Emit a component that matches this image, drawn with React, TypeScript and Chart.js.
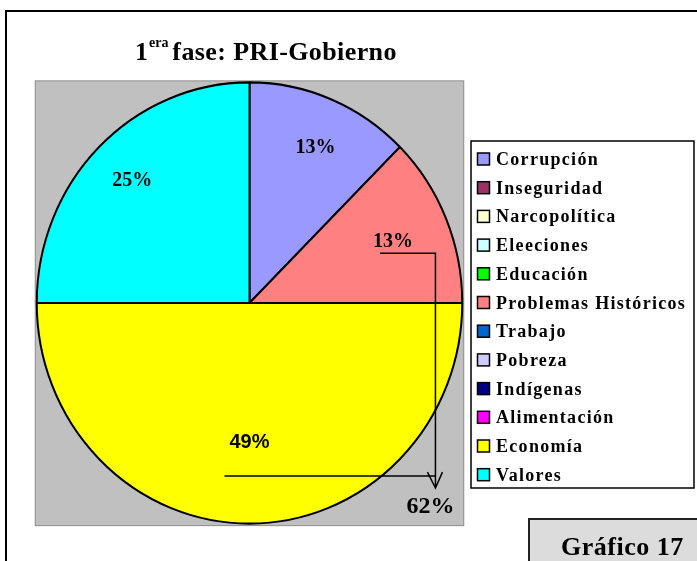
import React, { useEffect, useRef } from "react";
import { Chart, ArcElement, PieController } from "chart.js";

Chart.register(ArcElement, PieController);

const categories = [
  "Corrupción",
  "Inseguridad",
  "Narcopolítica",
  "Eleeciones",
  "Educación",
  "Problemas Históricos",
  "Trabajo",
  "Pobreza",
  "Indígenas",
  "Alimentación",
  "Economía",
  "Valores",
];
const shares = [12.5, 0, 0, 0, 0, 12.5, 0, 0, 0, 0, 50, 25];
const shownPercent = ["13%", "", "", "", "", "13%", "", "", "", "", "49%", "25%"];
const combinedLabel = "62%";
const colors = [
  "#9999FF",
  "#993366",
  "#FFFFCC",
  "#CCFFFF",
  "#00FF00",
  "#FF8080",
  "#0066CC",
  "#CCCCFF",
  "#000080",
  "#FF00FF",
  "#FFFF00",
  "#00FFFF",
];
const titleMain = "1";
const titleSup = "era";
const titleRest = " fase: PRI-Gobierno";
const badgeText = "Gráfico 17";

const SERIF = "'Liberation Serif', 'Times New Roman', serif";
const SANS = "'Liberation Sans', Arial, sans-serif";
const SY = 1.037;
const labelRadius: Record<number, number> = { 0: 0.76, 5: 0.73, 10: 0.63, 11: 0.78 };

function withSpacing(ctx: any, sp: string, fn: () => void) {
  const prev = ctx.letterSpacing;
  ctx.letterSpacing = sp;
  fn();
  ctx.letterSpacing = prev || "0px";
}

const decorPlugin = {
  id: "decor",
  beforeDraw(chart: any) {
    const ctx = chart.ctx;
    const arc = chart.getDatasetMeta(0).data[0];
    const cx = arc.x, cy = arc.y, r = arc.outerRadius;
    ctx.save();
    ctx.fillStyle = "#ffffff";
    ctx.fillRect(0, 0, chart.width, chart.height);
    ctx.strokeStyle = "#000";
    ctx.lineWidth = 2;
    ctx.strokeRect(6, 11, chart.width + 40, chart.height + 40);
    const ry = r * SY;
    ctx.fillStyle = "#C0C0C0";
    ctx.fillRect(cx - r - 1.5, cy - ry - 1.5, 2 * r + 3, 2 * ry + 3.5);
    ctx.strokeStyle = "#8a8a8a";
    ctx.lineWidth = 1;
    ctx.strokeRect(cx - r - 1.5, cy - ry - 1.5, 2 * r + 3, 2 * ry + 3.5);
    ctx.restore();
  },
  beforeDatasetsDraw(chart: any) {
    const ctx = chart.ctx;
    const arc = chart.getDatasetMeta(0).data[0];
    ctx.save();
    ctx.translate(arc.x, arc.y);
    ctx.scale(1, SY);
    ctx.translate(-arc.x, -arc.y);
  },
  afterDatasetsDraw(chart: any) {
    chart.ctx.restore();
  },
  afterDraw(chart: any) {
    const ctx = chart.ctx;
    const meta = chart.getDatasetMeta(0);
    const first = meta.data[0];
    const cx = first.x, cy = first.y, r = first.outerRadius;
    ctx.save();
    const pos: Record<number, { x: number; y: number }> = {};
    meta.data.forEach((a: any, i: number) => {
      if (!shares[i]) return;
      const mid = (a.startAngle + a.endAngle) / 2;
      const f = labelRadius[i] ?? 0.7;
      const x = cx + Math.cos(mid) * r * f;
      const y = cy + Math.sin(mid) * r * f * SY;
      pos[i] = { x, y };
      ctx.fillStyle = "#000";
      ctx.textAlign = "center";
      ctx.textBaseline = "middle";
      ctx.font = i === 10 ? `bold 20px ${SANS}` : `bold 20px ${SERIF}`;
      ctx.fillText(shownPercent[i], i === 0 ? x + 4 : x, y);
    });
    const ax = cx + r * 0.874;
    const p1 = pos[5], p2 = pos[10];
    const tipY = cy + r * 0.87;
    ctx.strokeStyle = "#000";
    ctx.lineWidth = 1.5;
    ctx.beginPath();
    ctx.moveTo(p1.x - 13, p1.y + 12);
    ctx.lineTo(ax, p1.y + 12);
    ctx.lineTo(ax, tipY);
    ctx.moveTo(p2.x - 25, p2.y + 34);
    ctx.lineTo(ax, p2.y + 34);
    ctx.moveTo(ax - 8, tipY - 16);
    ctx.lineTo(ax, tipY);
    ctx.lineTo(ax + 7, tipY - 16);
    ctx.stroke();
    ctx.fillStyle = "#000";
    ctx.textAlign = "center";
    ctx.textBaseline = "middle";
    ctx.font = `bold 24px ${SERIF}`;
    ctx.fillText(combinedLabel, ax - 5, tipY + 19);

    // title
    ctx.textAlign = "left";
    ctx.textBaseline = "alphabetic";
    ctx.font = `bold 26px ${SERIF}`;
    let tx = 135;
    withSpacing(ctx, "0px", () => {
      ctx.fillText(titleMain, tx, 60);
      tx += ctx.measureText(titleMain).width + 1;
    });
    ctx.font = `bold 14px ${SERIF}`;
    withSpacing(ctx, "0px", () => {
      ctx.fillText(titleSup, tx, 47);
      tx += ctx.measureText(titleSup).width;
    });
    ctx.font = `bold 26px ${SERIF}`;
    withSpacing(ctx, "0.4px", () => {
      ctx.fillText(titleRest, tx - 3, 60);
    });

    // legend
    const lx = 471, ly = 141, lw = 223, lh = 347;
    ctx.fillStyle = "#fff";
    ctx.fillRect(lx, ly, lw, lh);
    ctx.strokeStyle = "#000";
    ctx.lineWidth = 1.5;
    ctx.strokeRect(lx, ly, lw, lh);
    ctx.font = `bold 18px ${SERIF}`;
    categories.forEach((c, i) => {
      const yc = 159 + i * 28.7;
      ctx.fillStyle = colors[i];
      ctx.fillRect(477.5, yc - 6, 12, 12);
      ctx.strokeStyle = "#000";
      ctx.lineWidth = 1.5;
      ctx.strokeRect(477.5, yc - 6, 12, 12);
      ctx.fillStyle = "#000";
      withSpacing(ctx, "1.3px", () => {
        ctx.fillText(c, 496, yc + 6);
      });
    });

    // badge
    ctx.fillStyle = "#DCDCDC";
    ctx.fillRect(529, 519, 200, 60);
    ctx.strokeStyle = "#222";
    ctx.lineWidth = 2;
    ctx.strokeRect(529, 519, 200, 60);
    ctx.fillStyle = "#000";
    ctx.font = `bold 26px ${SERIF}`;
    withSpacing(ctx, "0.5px", () => {
      ctx.fillText(badgeText, 561, 555);
    });
    ctx.restore();
  },
};

export default function App() {
  const ref = useRef<HTMLCanvasElement | null>(null);
  useEffect(() => {
    if (!ref.current) return;
    const chart = new Chart(ref.current, {
      type: "pie",
      data: {
        labels: categories,
        datasets: [
          {
            data: shares,
            backgroundColor: colors,
            borderColor: "#000",
            borderWidth: 2,
          },
        ],
      },
      options: {
        responsive: false,
        animation: false,
        devicePixelRatio: 1,
        layout: { padding: { left: 35.25, right: 233.25, top: 89.25, bottom: 44.25 } },
        plugins: {
          legend: { display: false },
          title: { display: false },
          tooltip: { enabled: false },
        },
        events: [],
      },
      plugins: [decorPlugin],
    });
    return () => chart.destroy();
  }, []);
  return (
    <div style={{ position: "absolute", left: 0, top: 0, width: 697, height: 561, background: "#fff" }}>
      <canvas ref={ref} width={697} height={561} style={{ display: "block" }} />
    </div>
  );
}
